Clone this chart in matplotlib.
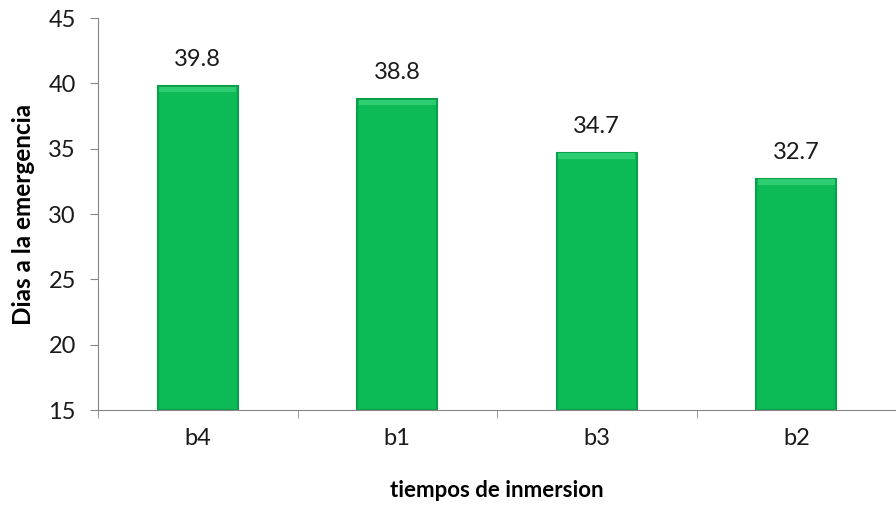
import matplotlib.pyplot as plt
import numpy as np

categories = ["b4", "b1", "b3", "b2"]
values = [39.8, 38.8, 34.7, 32.7]
y_ticks = [15, 20, 25, 30, 35, 40, 45]

plt.rcParams['font.family'] = ['Lato', 'DejaVu Sans']

fig = plt.figure(figsize=(8.96, 5.16), dpi=100)
ax = fig.add_axes([0.1094, 0.2054, 0.8906, 0.7596])

x = np.arange(len(categories))
base = 15
heights = [v - base for v in values]
ax.bar(x, heights, bottom=base, width=0.4, color="#0cbb55",
       edgecolor="#0a9f49", linewidth=1.5, zorder=2)
# lighter top bevel strip
ax.bar(x, [0.4] * len(values), bottom=[v - 0.45 for v in values], width=0.385,
       color="#2fcd72", linewidth=0, zorder=3)

for xi, v in zip(x, values):
    ax.text(xi, v + 2.0, f"{v:.1f}", ha="center", va="center", fontsize=17, color="#1a1a1a")

ax.set_xlim(-0.5, len(categories) - 0.5)
ax.set_ylim(15, 45)
ax.set_yticks(y_ticks)
ax.set_xticks(x)
ax.set_xticklabels(categories, fontsize=17, color="#1a1a1a")
ax.set_xticks(np.arange(-0.5, len(categories) - 0.4, 1), minor=True)
ax.tick_params(axis="x", which="major", length=0, pad=13)
ax.tick_params(axis="x", which="minor", length=6, color="#868686")
ax.tick_params(axis="y", labelsize=17, labelcolor="#1a1a1a", length=6, color="#868686", pad=10)

for s in ["top", "right"]:
    ax.spines[s].set_visible(False)
for s in ["left", "bottom"]:
    ax.spines[s].set_color("#868686")

ax.set_ylabel("Dias a la emergencia", fontsize=17.5, fontweight="bold")
ax.yaxis.set_label_coords(-0.079, 0.5)
ax.set_xlabel("tiempos de inmersion", fontsize=16, fontweight="bold", labelpad=22)

fig.savefig("out.png", dpi=100)
